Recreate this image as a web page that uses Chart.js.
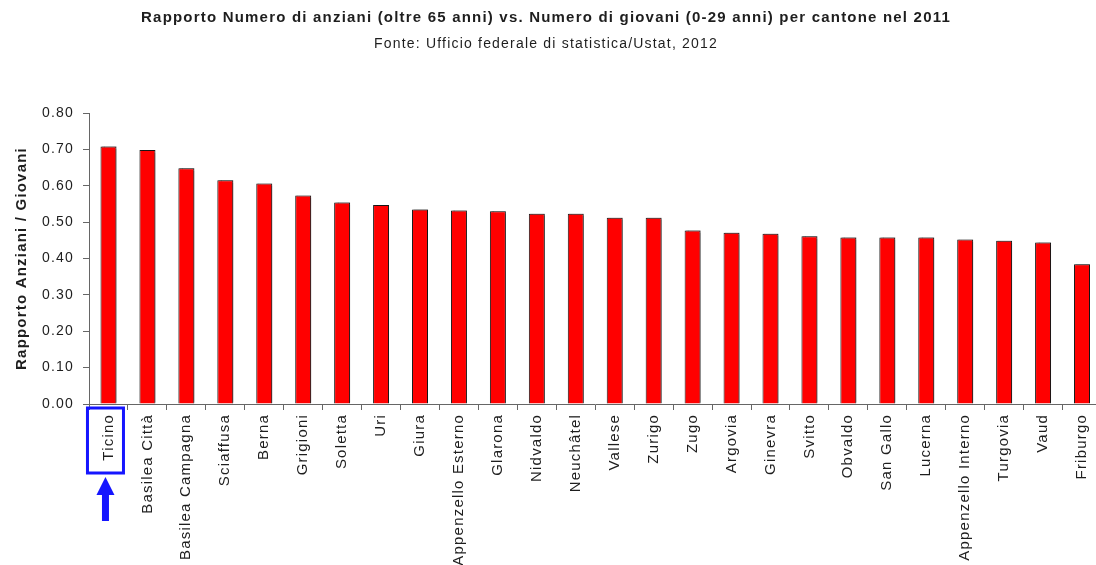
<!DOCTYPE html>
<html>
<head>
<meta charset="utf-8">
<script src="https://cdn.jsdelivr.net/npm/chart.js@4/dist/chart.umd.min.js"></script>
<style>
  html, body { margin: 0; padding: 0; background: #fff; overflow: hidden; }
  canvas { display: block; }
</style>
</head>
<body>
<canvas id="ratioChart" width="1104" height="565"></canvas>
<script>
const cantoni = [
    'Ticino', 'Basilea Città', 'Basilea Campagna', 'Sciaffusa', 'Berna', 'Grigioni',
    'Soletta', 'Uri', 'Giura', 'Appenzello Esterno', 'Glarona', 'Nidvaldo', 'Neuchâtel',
    'Vallese', 'Zurigo', 'Zugo', 'Argovia', 'Ginevra', 'Svitto', 'Obvaldo', 'San Gallo',
    'Lucerna', 'Appenzello Interno', 'Turgovia', 'Vaud', 'Friburgo'
];
const rapporto = [
    0.708, 0.698, 0.648, 0.615, 0.606, 0.573,
    0.554, 0.547, 0.535, 0.532, 0.530, 0.523, 0.523,
    0.512, 0.512, 0.477, 0.471, 0.468, 0.461, 0.458, 0.458,
    0.458, 0.452, 0.449, 0.444, 0.384
];
const titolo = 'Rapporto Numero di anziani (oltre 65 anni) vs. Numero di giovani (0-29 anni) per cantone nel 2011';
const fonte = 'Fonte: Ufficio federale di statistica/Ustat, 2012';
const titoloAsse = 'Rapporto Anziani / Giovani';
const evidenziato = 'Ticino';

const fontFamily = '"Liberation Sans", Arial, sans-serif';
const textColor = '#1e1e1e';
const axisColor = '#666';

// the original text is rendered with loose letter spacing
const spacingPlugin = {
    id: 'spacing',
    beforeUpdate(chart) { chart.ctx.letterSpacing = '1.2px'; },
    beforeLayout(chart) { chart.ctx.letterSpacing = '1.2px'; },
    beforeDraw(chart) { chart.ctx.letterSpacing = '1.2px'; }
};

// title + source line, centred a bit left of the canvas middle like the original
const headingPlugin = {
    id: 'heading',
    afterDraw(chart) {
        const c = chart.ctx;
        c.save();
        c.fillStyle = textColor;
        c.textAlign = 'center';
        c.textBaseline = 'middle';
        c.font = 'bold 15px ' + fontFamily;
        c.fillText(titolo, 546, 18);
        c.font = '14px ' + fontFamily;
        c.fillText(fonte, 546, 44);
        c.restore();
    }
};

// light shadow on the bars
const shadowPlugin = {
    id: 'barShadow',
    beforeDatasetsDraw(chart) {
        const c = chart.ctx;
        c.save();
        c.shadowColor = 'rgba(0,0,0,0.35)';
        c.shadowBlur = 1;
        c.shadowOffsetX = 1.5;
        c.shadowOffsetY = -1;
    },
    afterDatasetsDraw(chart) {
        chart.ctx.restore();
    }
};

// blue box around the highlighted label + arrow below it
const highlightPlugin = {
    id: 'highlight',
    afterDraw(chart) {
        const xs = chart.scales.x;
        const idx = cantoni.indexOf(evidenziato);
        if (idx < 0) return;
        const cx = xs.getPixelForValue(idx) - 3;
        const top = xs.top;
        const c = chart.ctx;
        c.save();
        c.strokeStyle = '#1515ff';
        c.fillStyle = '#1515ff';
        c.lineWidth = 3;
        c.strokeRect(cx - 18, top + 4, 36, 65);
        c.beginPath();
        c.moveTo(cx, top + 73);
        c.lineTo(cx + 9, top + 91);
        c.lineTo(cx + 3.5, top + 91);
        c.lineTo(cx + 3.5, top + 117);
        c.lineTo(cx - 3.5, top + 117);
        c.lineTo(cx - 3.5, top + 91);
        c.lineTo(cx - 9, top + 91);
        c.closePath();
        c.fill();
        c.restore();
    }
};

const ctx = document.getElementById('ratioChart').getContext('2d');

new Chart(ctx, {
    type: 'bar',
    data: {
        labels: cantoni,
        datasets: [{
            label: titoloAsse,
            data: rapporto,
            backgroundColor: '#ff0000',
            borderColor: '#1a1a1a',
            borderWidth: 1,
            barPercentage: 0.41,
            categoryPercentage: 1.0
        }]
    },
    options: {
        responsive: false,
        animation: false,
        layout: {
            padding: { left: 7, right: 0, top: 113, bottom: 0 }
        },
        plugins: {
            legend: { display: false },
            tooltip: { enabled: false },
            title: { display: false },
            subtitle: { display: false }
        },
        scales: {
            x: {
                afterFit: function (scale) {
                    scale.height = 161;
                },
                grid: {
                    display: true,
                    drawOnChartArea: false,
                    drawTicks: true,
                    tickLength: 6,
                    offset: true,
                    color: axisColor
                },
                border: { display: true, color: axisColor, width: 1 },
                ticks: {
                    color: textColor,
                    font: { family: fontFamily, size: 15 },
                    minRotation: 90,
                    maxRotation: 90,
                    autoSkip: false,
                    padding: 4
                }
            },
            y: {
                min: 0,
                max: 0.8,
                afterFit: function (scale) {
                    scale.width = 82;
                },
                grid: {
                    display: true,
                    drawOnChartArea: false,
                    drawTicks: true,
                    tickLength: 6,
                    color: axisColor
                },
                border: { display: true, color: axisColor, width: 1 },
                ticks: {
                    stepSize: 0.1,
                    color: textColor,
                    font: { family: fontFamily, size: 14 },
                    padding: 9,
                    callback: function (value) {
                        return Number(value).toFixed(2);
                    }
                },
                title: {
                    display: true,
                    text: titoloAsse,
                    color: textColor,
                    font: { family: fontFamily, size: 15, weight: 'bold' },
                    padding: { top: 6, bottom: 11 }
                }
            }
        }
    },
    plugins: [spacingPlugin, shadowPlugin, highlightPlugin, headingPlugin]
});
</script>
</body>
</html>
